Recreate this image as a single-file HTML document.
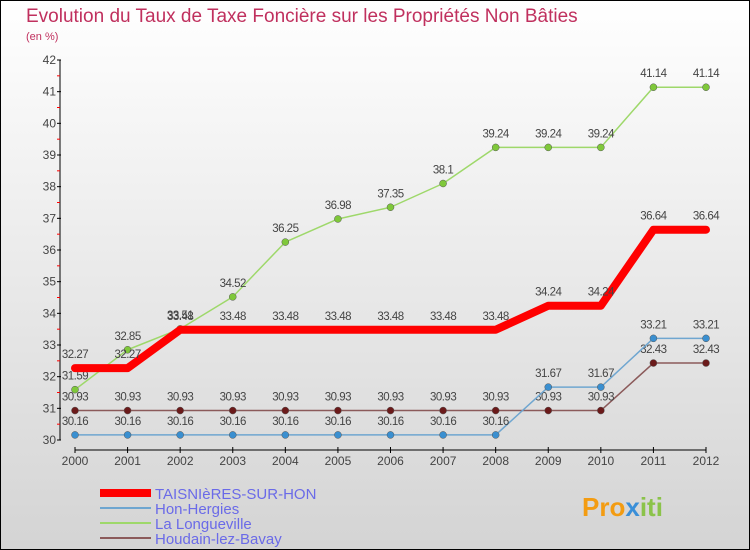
<!DOCTYPE html>
<html><head><meta charset="utf-8"><style>
body{margin:0;width:750px;height:550px;overflow:hidden;font-family:"Liberation Sans",sans-serif}
#c{position:absolute;left:0;top:0;width:748px;height:548px;border:1px solid #000;background:linear-gradient(#fff,#d4d4d4)}
</style></head><body>
<div id="c">
<svg id="s" width="750" height="550" xmlns="http://www.w3.org/2000/svg" style="position:absolute;left:-1px;top:-1px">
<text x="26" y="22" font-size="19" fill="#c0305e">Evolution du Taux de Taxe Foncière sur les Propriétés Non Bâties</text>
<text x="26" y="40" font-size="11" fill="#c0305e">(en %)</text>
<g id="axes"></g><g id="series"></g><g id="legend"></g>
<text x="582" y="516" font-size="26" font-weight="bold" fill="#f39c12">Pro<tspan fill="#3a8fd8">x</tspan><tspan fill="#8bc34a">iti</tspan></text>
</svg></div>
<script>
const years=[2000,2001,2002,2003,2004,2005,2006,2007,2008,2009,2010,2011,2012];
const yTicks=[30,31,32,33,34,35,36,37,38,39,40,41,42];
const names=["TAISNIèRES-SUR-HON","Hon-Hergies","La Longueville","Houdain-lez-Bavay"];
const taisnieres=[32.27,32.27,33.48,33.48,33.48,33.48,33.48,33.48,33.48,34.24,34.24,36.64,36.64];
const honHergies=[30.16,30.16,30.16,30.16,30.16,30.16,30.16,30.16,30.16,31.67,31.67,33.21,33.21];
const longueville=[31.59,32.85,33.51,34.52,36.25,36.98,37.35,38.1,39.24,39.24,39.24,41.14,41.14];
const houdain=[30.93,30.93,30.93,30.93,30.93,30.93,30.93,30.93,30.93,30.93,30.93,32.43,32.43];
const NS="http://www.w3.org/2000/svg";
const X=i=>75+i*(706-75)/(years.length-1);
const Y=v=>440-(v-30)*(380/12);
function mk(p,t,a){const e=document.createElementNS(NS,t);for(const k in a)e.setAttribute(k,a[k]);p.appendChild(e);return e;}
const ax=document.getElementById('axes');
let l=mk(ax,'line',{x1:60,y1:60,x2:60,y2:440,stroke:'#000'});


l=mk(ax,'line',{x1:75,y1:450,x2:706,y2:450,stroke:'#000'});


yTicks.forEach(v=>{mk(ax,'line',{x1:57,x2:61,y1:Y(v),y2:Y(v),stroke:'#000'});
 if(v<42)mk(ax,'line',{x1:57,x2:60,y1:Y(v+0.5),y2:Y(v+0.5),stroke:'#f00'});
 const t=mk(ax,'text',{x:56,y:Y(v)+4,'font-size':12,fill:'#444','text-anchor':'end'});t.textContent=v;
 
 });
years.forEach((y,i)=>{mk(ax,'line',{x1:X(i),x2:X(i),y1:447,y2:453,stroke:'#000'});
 const t=mk(ax,'text',{x:X(i),y:465,'font-size':12,fill:'#444','text-anchor':'middle'});t.textContent=y;
 
 });
const sg=document.getElementById('series');
const defs=[[houdain,'#8b5a5a','#6b1a1a',1.5,3.5,'houdain-lez-bavay-series'],[honHergies,'#6fa6d0','#3a8fd0',1.5,3.5,'hon-hergies-series'],[longueville,'#9ed86a','#7fc83a',1.5,3.5,'la-longueville-series'],[taisnieres,'#f00','#f00',8,0,'taisnieres-series']];
defs.forEach(([d,lc,pc,w,r,n])=>{
 const g=mk(sg,'g',{});
 
 
 mk(g,'polyline',{points:d.map((v,i)=>X(i)+','+Y(v)).join(' '),fill:'none',stroke:lc,'stroke-width':w,'stroke-linejoin':'round','stroke-linecap':'round'});
 d.forEach((v,i)=>{
  if(r){const c=mk(g,'circle',{cx:X(i),cy:Y(v),r:r,fill:pc,stroke:'#555','stroke-width':0.5});
   
   }
  const t=mk(g,'text',{x:X(i),y:Y(v)-10,'font-size':11.5,fill:'#444','text-anchor':'middle','letter-spacing':'-0.5'});t.textContent=v;
  
  });
});
const lg=document.getElementById('legend');
const lcols=['#f00','#6fa6d0','#9ed86a','#8b5a5a'],lw=[8,2,2,2];
names.forEach((n,i)=>{const y=493+i*15;
 const e=mk(lg,'g',{});
 
 
 mk(e,'line',{x1:100,x2:151,y1:y,y2:y,stroke:lcols[i],'stroke-width':lw[i]});
 const t=mk(e,'text',{x:155,y:y+6,'font-size':15,fill:'#6a6ae8'});t.textContent=n;});
</script></body></html>
